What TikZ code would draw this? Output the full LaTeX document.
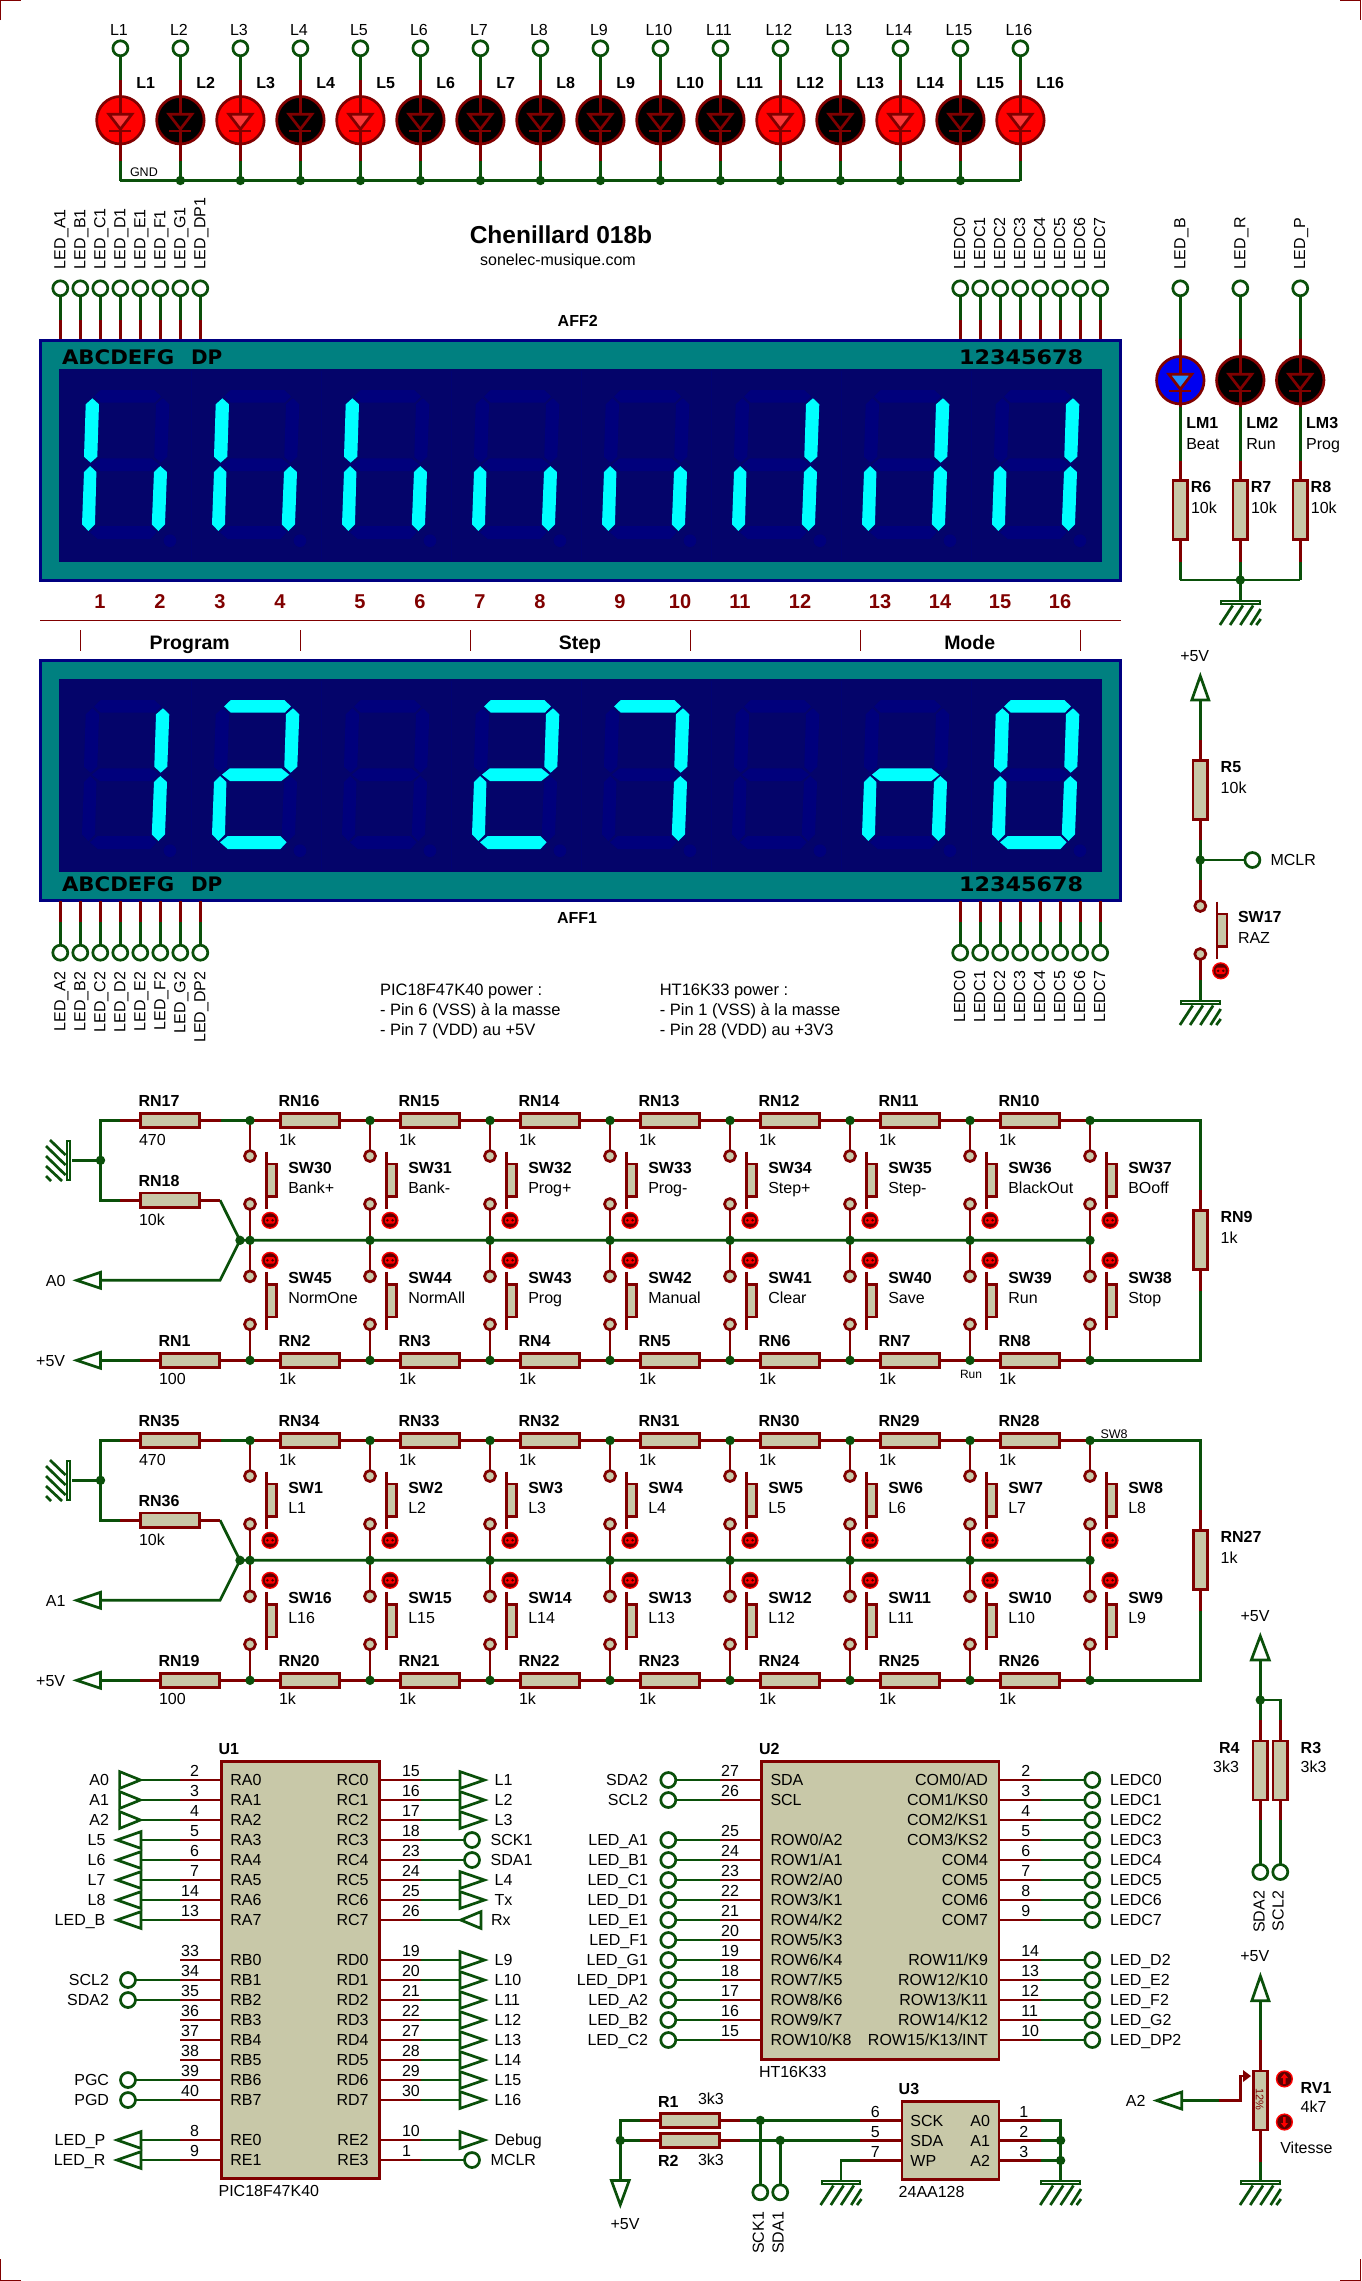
\documentclass[tikz,border=0pt]{standalone}
\usepackage{fontspec}
\usepackage{graphicx}
\setmainfont{Liberation Sans}
\newfontfamily\legf{DejaVu Sans}
\definecolor{wg}{HTML}{0A500A}
\definecolor{wr}{HTML}{800000}
\definecolor{body}{HTML}{C8C8A8}
\definecolor{ledr}{HTML}{FF0000}
\definecolor{ledt}{HTML}{FF3838}
\definecolor{ledb}{HTML}{0000F0}
\definecolor{ledbt}{HTML}{2090FF}
\definecolor{teal0}{HTML}{008080}
\definecolor{navy0}{HTML}{000080}
\definecolor{scr}{HTML}{04046A}
\definecolor{segdim}{HTML}{00007C}
\definecolor{sepc}{HTML}{020272}
\definecolor{seglit}{HTML}{00FFFF}
\tikzset{
 gw/.style={draw=wg,line width=2.7pt,line join=miter},
 rw/.style={draw=wr,line width=2.7pt,line join=miter},
 term/.style={circle,draw=wg,fill=white,line width=2.7pt,minimum size=15pt,inner sep=0pt,outer sep=0pt},
 jn/.style={circle,fill=wg,minimum size=9.4pt,inner sep=0pt,outer sep=0pt},
 cont/.style={circle,draw=wr,fill=body,line width=2.7pt,minimum size=11pt,inner sep=0pt,outer sep=0pt},
 ledc/.style={circle,draw=wr,line width=2.7pt,minimum size=47.5pt,inner sep=0pt,outer sep=0pt},
 resh/.style={rectangle,draw=wr,fill=body,line width=2.7pt,minimum width=59pt,minimum height=14.3pt,inner sep=0pt,outer sep=0pt},
 resv/.style={rectangle,draw=wr,fill=body,line width=2.7pt,minimum width=14.5pt,minimum height=59pt,inner sep=0pt,outer sep=0pt},
 chip/.style={rectangle,draw=wr,fill=body,line width=2.7pt,inner sep=0pt,outer sep=0pt},
 panel/.style={rectangle,draw=navy0,fill=teal0,line width=2.7pt,minimum width=1080pt,minimum height=239.6pt,inner sep=0pt,outer sep=0pt},
 screen/.style={rectangle,fill=scr,minimum width=1043pt,minimum height=192.7pt,inner sep=0pt,outer sep=0pt},
 gbar/.style={rectangle,draw=wg,fill=white,line width=2pt,minimum width=38.5pt,minimum height=3pt,inner sep=0pt,outer sep=0pt},
 txt/.style={inner sep=0pt,outer sep=0pt,anchor=base west,yshift=-5.7pt,font=\fontsize{16}{18}\selectfont,text=black},
 rtxt/.style={inner sep=0pt,outer sep=0pt,anchor=base west,xshift=5pt,rotate=90,font=\fontsize{16}{18}\selectfont,text=black},
 note/.style={font=\fontsize{16.5}{18}\selectfont},
 thin0/.style={draw=wr,line width=1.1pt},
}
\newcount\nc
\newcommand\Tx[4][]{\global\advance\nc by 1 \node[txt,#1] (tx\the\nc) at (#2,#3) {#4};}
\newcommand\Rx[4][]{\global\advance\nc by 1 \node[rtxt,#1] (tx\the\nc) at (#2,#3) {#4};}
\newcommand\Jn[1]{\global\advance\nc by 1 \node[jn] (jn\the\nc) at (#1) {};}
\newcommand\Tri[3]{\draw[gw,fill=white] (#1)--(#2)--(#3)--cycle;}
% segments of one digit, relative to the screen top
\newcommand\sega[1]{\fill[#1] (94.1,27.4)--(100.8,21)--(154.4,21)--(161,27.4)--(154.8,33.7)--(100.8,33.7)--cycle;}
\newcommand\segb[1]{\fill[#1] (163,29.3)--(169.3,35.3)--(167.3,87.7)--(160.7,93.7)--(154.3,87.7)--(156,35.3)--cycle;}
\newcommand\segc[1]{\fill[#1] (160.3,97)--(167,103)--(165,155.3)--(158.5,162)--(151.8,155.3)--(154,103)--cycle;}
\newcommand\segd[1]{\fill[#1] (90,163.3)--(97.7,157)--(150.4,157)--(156.6,163.3)--(150.4,170)--(97.7,170)--cycle;}
\newcommand\sege[1]{\fill[#1] (90.2,97)--(96.4,103)--(95,155.3)--(88.4,162)--(82,155.3)--(84,103)--cycle;}
\newcommand\segf[1]{\fill[#1] (92.4,29.3)--(99,35.3)--(97.3,87.7)--(90.6,93.7)--(84,87.7)--(85.7,35.3)--cycle;}
\newcommand\segg[1]{\fill[#1] (91.9,95.7)--(99.9,89.3)--(151.3,89.3)--(159.3,95.7)--(151.3,102)--(99.9,102)--cycle;}
\newcommand\segn[1]{}
\newcommand\Digit[3]{\begin{scope}[shift={(#2,#1)}]
 \foreach \sgm in {a,b,c,d,e,f,g}{\csname seg\sgm\endcsname{segdim}}
 \fill[segdim] (170,171.7) circle (6.3);
 \foreach \sgm in {#3}{\csname seg\sgm\endcsname{seglit}}
\end{scope}}
\newcommand\LED[5]{%
 \node[ledc,fill=#4] (#1) at (#2,#3) {};
 \draw[rw,fill=#5] (#2-11.5,#3-6)--(#2+11.5,#3-6)--(#2,#3+9)--cycle;
 \draw[rw] (#2-11,#3+10.7)--(#2+11,#3+10.7);
 \draw[rw] (#1.north)--(#2,#3-6);
 \draw[rw] (#2,#3+9)--(#1.south);
}
\newcommand\Gnd[3]{%
 \node[gbar] (#1) at (#2,#3+2.5) {};
 \draw[gw] (#2-7.6,#3+5.5)--(#2-20.4,#3+25);
 \draw[gw] (#2+2.6,#3+5.5)--(#2-10.2,#3+25);
 \draw[gw] (#2+12.8,#3+5.5)--(#2,#3+25);
 \draw[gw] (#2+20.4,#3+9)--(#2+10.2,#3+25);
 \draw[gw] (#2+20.4,#3+19)--(#2+16,#3+25);
}
\newcommand\IndBase[2]{\fill[ledr] (#1,#2) circle (8.6); \fill[wr!75!black] (#1,#2) circle (7.1);}
\newcommand\Ind[2]{\IndBase{#1}{#2}
 \fill[ledr,rounded corners=1.5pt] (#1-5,#2-3.2) rectangle (#1+5,#2+3.2);
 \fill[wr!60!black] (#1-2.6,#2) circle (1.4); \fill[wr!60!black] (#1+2.6,#2) circle (1.4);}
% switch: name, column x, y of the upper contact
\newcommand\SwB[3]{%
 \node[cont] (#1a) at (#2,#3) {};
 \node[cont] (#1b) at (#2,#3+48) {};
 \draw[rw,fill=body] (#2+16.7,#3+7.9) rectangle (#2+26.7,#3+40.8);
 \draw[rw] (#2+16.7,#3-4.5)--(#2+16.7,#3+53.2);
}
\newcommand\Mat{%
 \pgfmathsetmacro\Yt{1120.5+\Dy}
 \pgfmathsetmacro\Ym{1240.3+\Dy}
 \pgfmathsetmacro\Yb{1360.3+\Dy}
 \foreach \cc in {0,...,7}{
  \pgfmathsetmacro\xx{250+120*\cc}
  \coordinate (\Tag T\cc) at (\xx,\Yt);
  \coordinate (\Tag M\cc) at (\xx,\Ym);
  \coordinate (\Tag B\cc) at (\xx,\Yb);
 }
 \coordinate (\Tag g) at (100.5,\Ym-80);
 \coordinate (\Tag tl) at (100.5,\Yt);
 \coordinate (\Tag tm) at (120,\Yt);
 \coordinate (\Tag ml) at (100.5,\Yt+79.7);
 \coordinate (\Tag mm) at (120,\Yt+79.7);
 \coordinate (\Tag me) at (220,\Yt+79.7);
 \coordinate (\Tag te) at (221,\Yt);
 \coordinate (\Tag hub) at (240,\Ym);
 \coordinate (\Tag ae) at (220,\Ym+40);
 \coordinate (\Tag aw) at (100.5,\Ym+40);
 \coordinate (\Tag bw) at (100.5,\Yb);
 \coordinate (\Tag bm) at (140,\Yb);
 \coordinate (\Tag rt) at (1200.4,\Yt);
 \coordinate (\Tag rta) at (1200.4,\Yt+69.5);
 \coordinate (\Tag rb) at (1200.4,\Yb);
 \coordinate (\Tag rba) at (1200.4,\Yb-69.6);
 \coordinate (\Tag barr) at (71.5,\Ym-80);
 % green wires
 \draw[gw] (\Tag mm)--(\Tag ml)--(\Tag tl)--(\Tag tm);
 \draw[gw] (\Tag g)--(\Tag barr);
 \draw[gw] (\Tag me)--(\Tag hub)--(\Tag M7);
 \draw[gw] (\Tag aw)--(\Tag ae)--(\Tag hub);
 \draw[gw] (\Tag bw)--(\Tag bm);
 \draw[gw] (\Tag te)--(\Tag T0);
 \draw[gw] (\Tag T7)--(\Tag rt)--(\Tag rta);
 \draw[gw] (\Tag B7)--(\Tag rb)--(\Tag rba);
 % resistors at the left and right
 \node[resh] (\Tag r1) at (170.3,\Yt) {};
 \node[resh] (\Tag r2) at (170.3,\Yt+79.7) {};
 \node[resh] (\Tag r3) at (190.3,\Yb) {};
 \node[resv] (\Tag r4) at (1200.4,\Ym) {};
 \draw[rw] (\Tag tm)--(\Tag r1.west); \draw[rw] (\Tag r1.east)--(\Tag te);
 \draw[rw] (\Tag mm)--(\Tag r2.west); \draw[rw] (\Tag r2.east)--(\Tag me);
 \draw[rw] (\Tag bm)--(\Tag r3.west); \draw[rw] (\Tag r3.east)--(\Tag B0);
 \draw[rw] (\Tag rta)--(\Tag r4.north); \draw[rw] (\Tag r4.south)--(\Tag rba);
 \Tx{138.5}{\Yt-19.5}{\bfseries\RTop}
 \Tx{139}{\Yt+18.8}{470}
 \Tx{138.5}{\Yt+60.2}{\bfseries\RMid}
 \Tx{139}{\Yt+99}{10k}
 \Tx{158.5}{\Yb-19.3}{\bfseries\RBot}
 \Tx{159}{\Yb+18.8}{100}
 \Tx{1220.6}{\Ym-23.3}{\bfseries\RVert}
 \Tx{1220.6}{\Ym-2.6}{1k}
 % hatch of the rotated earth
 \node[gbar,minimum width=3pt,minimum height=38.5pt] (\Tag gb) at (68.7,\Ym-80) {};
 \draw[gw] (50,\Ym-100.3)--(65.5,\Ym-85.3);
 \draw[gw] (46,\Ym-94.3)--(65.5,\Ym-75.3);
 \draw[gw] (46,\Ym-84.3)--(65.5,\Ym-65.3);
 \draw[gw] (46,\Ym-74.3)--(62,\Ym-59.3);
 \draw[gw] (46,\Ym-64.3)--(51,\Ym-59.3);
 \Jn{\Tag g}
 \Jn{\Tag hub}
 \Tri{76.7,\Ym+40}{100.5,\Ym+32}{100.5,\Ym+48}
 \Tri{76.7,\Yb}{100.5,\Yb-8}{100.5,\Yb+8}
 \Tx[anchor=base]{55.7}{\Ym+40}{\AIn}
 \Tx[anchor=base]{50.7}{\Yb}{+5V}
 % rows of resistors
 \foreach \cc/\rn in \TopL{
  \pgfmathtruncatemacro\nxt{\cc+1}
  \pgfmathsetmacro\xx{250+120*\cc}
  \node[resh] (\Tag tr\cc) at (\xx+60.3,\Yt) {};
  \draw[rw] (\Tag T\cc)--(\Tag tr\cc.west);
  \draw[rw] (\Tag tr\cc.east)--(\Tag T\nxt);
  \Tx{\xx+28.5}{\Yt-19.5}{\bfseries\rn}
  \Tx{\xx+29}{\Yt+18.8}{1k}
 }
 \foreach \cc/\rn in \BotL{
  \pgfmathtruncatemacro\nxt{\cc+1}
  \pgfmathsetmacro\xx{250+120*\cc}
  \node[resh] (\Tag br\cc) at (\xx+60.3,\Yb) {};
  \draw[rw] (\Tag B\cc)--(\Tag br\cc.west);
  \draw[rw] (\Tag br\cc.east)--(\Tag B\nxt);
  \Tx{\xx+28.5}{\Yb-19.3}{\bfseries\rn}
  \Tx{\xx+29}{\Yb+18.8}{1k}
 }
 % switches
 \foreach \cc/\sa/\sb in \SwT{
  \pgfmathsetmacro\xx{250+120*\cc}
  \SwB{\Tag su\cc}{\xx}{\Yt+35.5}
  \draw[rw] (\Tag T\cc)--(\Tag su\cc a);
  \draw[rw] (\Tag su\cc b)--(\Tag M\cc);
  \Ind{\xx+20}{\Yt+99.8}
  \Tx{\xx+38.3}{\Yt+46.8}{\bfseries\sa}
  \Tx{\xx+38.3}{\Yt+66.8}{\sb}
 }
 \foreach \cc/\sa/\sb in \SwL{
  \pgfmathsetmacro\xx{250+120*\cc}
  \SwB{\Tag sl\cc}{\xx}{\Ym+36}
  \draw[rw] (\Tag M\cc)--(\Tag sl\cc a);
  \draw[rw] (\Tag sl\cc b)--(\Tag B\cc);
  \Ind{\xx+20}{\Ym+20}
  \Tx{\xx+38.3}{\Ym+37}{\bfseries\sa}
  \Tx{\xx+38.3}{\Ym+57}{\sb}
  \Jn{\Tag T\cc}
  \Jn{\Tag M\cc}
  \Jn{\Tag B\cc}
 }
}
% terminal styles of U1
\newcommand\UaLi[3]{\coordinate (UaE#1) at (140.4,#2); \draw[gw] (UaM#1)--(UaE#1);
 \Tri{119.6,#2-8.4}{140.4,#2}{119.6,#2+8.4} \Tx[anchor=base east]{109}{#2}{#3}}
\newcommand\UaLo[3]{\coordinate (UaE#1) at (141,#2); \draw[gw] (UaM#1)--(UaE#1);
 \Tri{117,#2}{141,#2-8.4}{141,#2+8.4} \Tx[anchor=base east]{105.4}{#2}{#3}}
\newcommand\UaLc[3]{\node[term] (UaE#1) at (128,#2) {}; \draw[gw] (UaM#1)--(UaE#1);
 \Tx[anchor=base east]{109}{#2}{#3}}
\newcommand\UaLn[3]{}
\newcommand\UaRo[3]{\coordinate (UbE#1) at (460,#2); \draw[gw] (UbM#1)--(UbE#1);
 \Tri{460,#2-8.4}{484.5,#2}{460,#2+8.4} \Tx{494.6}{#2}{#3}}
\newcommand\UaRc[3]{\node[term] (UbE#1) at (472,#2) {}; \draw[gw] (UbM#1)--(UbE#1);
 \Tx{490.7}{#2}{#3}}
\newcommand\UaRr[3]{\coordinate (UbE#1) at (460.7,#2); \draw[gw] (UbM#1)--(UbE#1);
 \Tri{460.7,#2}{481,#2-8.4}{481,#2+8.4} \Tx{491}{#2}{#3}}
\begin{document}
\begin{tikzpicture}[x=1pt,y=-1pt]
\useasboundingbox (0,0) rectangle (1361,2281);
\fill[white] (0,0) rectangle (1361,2281);
% sheet corners
\draw[thin0] (0.5,20)--(0.5,0.5)--(21,0.5);
\draw[thin0] (1340,0.5)--(1360.5,0.5)--(1360.5,20);
\draw[thin0] (0.5,2259)--(0.5,2280.5)--(21,2280.5);
\draw[thin0] (1340,2280.5)--(1360.5,2280.5)--(1360.5,2259);
% ---------- LED row
\foreach \ii/\fc/\tc in {1/ledr/ledt,2/black/black,3/ledr/ledt,4/black/black,5/ledr/ledt,6/black/black,7/black/black,8/black/black,9/black/black,10/black/black,11/black/black,12/ledr/ledt,13/black/black,14/ledr/ledt,15/black/black,16/ledr/ledt}{
 \pgfmathsetmacro\xx{120.4+60*(\ii-1)}
 \node[term] (Lt\ii) at (\xx,48.3) {};
 \coordinate (La\ii) at (\xx,80);
 \coordinate (Lb\ii) at (\xx,161);
 \coordinate (Lg\ii) at (\xx,180.5);
 \draw[gw] (Lt\ii)--(La\ii);
 \draw[gw] (Lb\ii)--(Lg\ii);
 \LED{Ld\ii}{\xx}{120.2}{\fc}{\tc}
 \draw[rw] (La\ii)--(Ld\ii.north);
 \draw[rw] (Ld\ii.south)--(Lb\ii);
 \Tx[anchor=base]{\xx-1.5}{30}{L\ii}
 \Tx{\xx+16}{83}{\bfseries L\ii}
}
\draw[gw] (Lg1)--(Lg16);
\foreach \ii in {2,...,15}{\Jn{Lg\ii}}
\Tx[font=\fontsize{12.5}{14}\selectfont]{130}{171}{GND}
% ---------- title
\Tx[anchor=base,yshift=-2.7pt,font=\fontsize{24.5}{28}\selectfont]{561}{235}{\bfseries Chenillard 018b}
\Tx[anchor=base]{558}{260}{sonelec-musique.com}
\Tx[anchor=base]{577.7}{321}{\bfseries AFF2}
\Tx[anchor=base]{577}{917.3}{\bfseries AFF1}
% ---------- panels
\node[panel] (aff2) at (580.7,460.5) {};
\node[screen] (scr2) at (580.5,465.4) {};
\node[panel] (aff1) at (580.7,780.5) {};
\node[screen] (scr1) at (580.5,775.4) {};
\foreach \oy in {369,679}{
 \foreach \qq in {0,...,6}{
  \pgfmathsetmacro\xx{191+130*\qq}
  \draw[sepc,line width=1pt] (\xx,\oy+2)--(\xx,\oy+192);
 }
}
\Digit{369}{0}{f,e,c}
\Digit{369}{130}{f,e,c}
\Digit{369}{260}{f,e,c}
\Digit{369}{390}{e,c}
\Digit{369}{520}{e,c}
\Digit{369}{650}{b,e,c}
\Digit{369}{780}{b,e,c}
\Digit{369}{910}{b,e,c}
\Digit{679}{0}{b,c}
\Digit{679}{130}{a,b,g,e,d}
\Digit{679}{260}{n}
\Digit{679}{390}{a,b,g,e,d}
\Digit{679}{520}{a,b,c}
\Digit{679}{650}{n}
\Digit{679}{780}{e,g,c}
\Digit{679}{910}{a,b,c,d,e,f}
\foreach \ly in {356.7,884.5}{
 \Tx[yshift=-1.6pt,font=\legf\fontsize{20}{22}\selectfont\bfseries]{62}{\ly}{\scalebox{1.063}[1]{ABCDEFG}}
 \Tx[yshift=-1.6pt,font=\legf\fontsize{20}{22}\selectfont\bfseries]{191}{\ly}{DP}
 \Tx[yshift=-1.6pt,font=\legf\fontsize{20}{22}\selectfont\bfseries]{959}{\ly}{\scalebox{1.115}[1]{12345678}}
}
% ---------- display pins
\foreach \ii/\la/\lb in {0/A/A1,1/B/B1,2/C/C1,3/D/D1,4/E/E1,5/F/F1,6/G/G1,7/DP/DP1}{
 \pgfmathsetmacro\xx{60.3+20*\ii}
 \node[term] (pa\ii) at (\xx,288.3) {};
 \coordinate (pam\ii) at (\xx,320);
 \coordinate (pae\ii) at (\xx,339);
 \draw[gw] (pa\ii)--(pam\ii);
 \draw[rw] (pam\ii)--(pae\ii);
 \Rx{\xx}{269}{LED\_\la 1}
}
\foreach \ii/\la in {0/A,1/B,2/C,3/D,4/E,5/F,6/G,7/DP}{
 \pgfmathsetmacro\xx{60.3+20*\ii}
 \node[term] (pb\ii) at (\xx,952.7) {};
 \coordinate (pbm\ii) at (\xx,921.7);
 \coordinate (pbe\ii) at (\xx,901);
 \draw[gw] (pb\ii)--(pbm\ii);
 \draw[rw] (pbm\ii)--(pbe\ii);
 \Rx[anchor=base east]{\xx}{971.7}{LED\_\la 2}
}
\foreach \ii in {0,...,7}{
 \pgfmathsetmacro\xx{960.2+20*\ii}
 \node[term] (pc\ii) at (\xx,288.3) {};
 \coordinate (pcm\ii) at (\xx,320);
 \coordinate (pce\ii) at (\xx,339);
 \draw[gw] (pc\ii)--(pcm\ii);
 \draw[rw] (pcm\ii)--(pce\ii);
 \Rx{\xx}{269}{LEDC\ii}
 \node[term] (pd\ii) at (\xx,952.7) {};
 \coordinate (pdm\ii) at (\xx,921.7);
 \coordinate (pde\ii) at (\xx,901);
 \draw[gw] (pd\ii)--(pdm\ii);
 \draw[rw] (pdm\ii)--(pde\ii);
 \Rx[anchor=base east]{\xx}{971}{LEDC\ii}
}
% ---------- separators and legend between the displays
\foreach \xx/\nn in {100/1,160/2,220/3,280/4,360/5,420/6,480/7,540/8,620/9,680/10,740/11,800/12,880/13,940/14,1000/15,1060/16}{
 \Tx[anchor=base,yshift=-1.5pt,font=\fontsize{20}{22}\selectfont\bfseries,text=wr]{\xx}{601.7}{\nn}
}
\coordinate (sepa) at (40,620.7);
\coordinate (sepb) at (1121,620.7);
\draw[thin0] (sepa)--(sepb);
\foreach \xx in {80.4,300.4,470.5,690.6,860.2,1080.4}{\draw[thin0] (\xx,630)--(\xx,650.7);}
\Tx[anchor=base,yshift=-1.4pt,font=\fontsize{19.5}{22}\selectfont\bfseries]{189.7}{642}{Program}
\Tx[anchor=base,yshift=-1.4pt,font=\fontsize{19.5}{22}\selectfont\bfseries]{580}{642}{Step}
\Tx[anchor=base,yshift=-1.4pt,font=\fontsize{19.5}{22}\selectfont\bfseries]{969.7}{642}{Mode}
% ---------- power notes
\Tx[note]{380}{989.3}{PIC18F47K40 power :}
\Tx[note]{380}{1009.3}{- Pin 6 (VSS) à la masse}
\Tx[note]{380}{1029.3}{- Pin 7 (VDD) au +5V}
\Tx[note]{659.8}{989.3}{HT16K33 power :}
\Tx[note]{659.8}{1009.3}{- Pin 1 (VSS) à la masse}
\Tx[note]{659.8}{1029.3}{- Pin 28 (VDD) au +3V3}
% ---------- LM leds
\foreach \ii/\xx/\nm/\rr/\sb/\fc/\tc in {1/1180.3/LED\_B/R6/Beat/ledb/ledbt,2/1240.3/LED\_R/R7/Run/black/black,3/1300.2/LED\_P/R8/Prog/black/black}{
 \node[term] (mt\ii) at (\xx,288.3) {};
 \coordinate (ma\ii) at (\xx,339.3);
 \coordinate (mb\ii) at (\xx,407);
 \coordinate (mc\ii) at (\xx,460.5);
 \coordinate (md\ii) at (\xx,562);
 \coordinate (mg\ii) at (\xx,580);
 \draw[gw] (mt\ii)--(ma\ii);
 \draw[gw] (mb\ii)--(mc\ii);
 \draw[gw] (md\ii)--(mg\ii);
 \LED{ml\ii}{\xx}{380.2}{\fc}{\tc}
 \node[resv] (mr\ii) at (\xx,510.2) {};
 \draw[rw] (ma\ii)--(ml\ii.north);
 \draw[rw] (ml\ii.south)--(mb\ii);
 \draw[rw] (mc\ii)--(mr\ii.north);
 \draw[rw] (mr\ii.south)--(md\ii);
 \Rx{\xx}{269}{\nm}
 \Tx{\xx+6}{422.6}{\bfseries LM\ii}
 \Tx{\xx+6}{443.6}{\sb}
 \Tx{\xx+10.5}{487}{\bfseries \rr}
 \Tx{\xx+10.7}{507.4}{10k}
}
\draw[gw] (mg1)--(mg3);
\Gnd{g1}{1240.3}{600}
\Jn{mg2}
\draw[gw] (mg2)--(g1.north);
% ---------- MCLR
\Tx[anchor=base]{1194.7}{655.6}{+5V}
\coordinate (ra) at (1200.3,700);
\coordinate (rb) at (1200.3,739.6);
\coordinate (rc) at (1200.3,840);
\coordinate (rd) at (1200.3,860);
\coordinate (re) at (1200.3,880);
\coordinate (rf) at (1200.3,980);
\draw[gw] (ra)--(rb);
\draw[gw] (rc)--(re);
\draw[gw] (rf)--(1200.3,1001);
\node[resv] (R5) at (1200.3,790.3) {};
\draw[rw] (rb)--(R5.north);
\draw[rw] (R5.south)--(rc);
\Tri{1200.3,676}{1191.8,700}{1208.8,700}
\SwB{sw17}{1200.3}{906}
\draw[rw] (re)--(sw17a);
\draw[rw] (sw17b)--(rf);
\Ind{1220.7}{970.8}
\Gnd{g2}{1200.3}{1000}
\node[term] (mclrt) at (1252.4,860) {};
\draw[gw] (rd)--(mclrt);
\Jn{rd}
\Tx{1270.6}{860}{MCLR}
\Tx{1220.7}{767}{\bfseries R5}
\Tx{1220.7}{787.3}{10k}
\Tx{1238}{917}{\bfseries SW17}
\Tx{1238}{937.3}{RAZ}
% ---------- switch matrices
\def\Dy{0}\def\Tag{a}\def\AIn{A0}\def\RTop{RN17}\def\RMid{RN18}\def\RBot{RN1}\def\RVert{RN9}
\def\TopL{0/RN16,1/RN15,2/RN14,3/RN13,4/RN12,5/RN11,6/RN10}
\def\BotL{0/RN2,1/RN3,2/RN4,3/RN5,4/RN6,5/RN7,6/RN8}
\def\SwT{0/SW30/Bank+,1/SW31/Bank-,2/SW32/Prog+,3/SW33/Prog-,4/SW34/Step+,5/SW35/Step-,6/SW36/BlackOut,7/SW37/BOoff}
\def\SwL{0/SW45/NormOne,1/SW44/NormAll,2/SW43/Prog,3/SW42/Manual,4/SW41/Clear,5/SW40/Save,6/SW39/Run,7/SW38/Stop}
\Mat
\def\Dy{320}\def\Tag{b}\def\AIn{A1}\def\RTop{RN35}\def\RMid{RN36}\def\RBot{RN19}\def\RVert{RN27}
\def\TopL{0/RN34,1/RN33,2/RN32,3/RN31,4/RN30,5/RN29,6/RN28}
\def\BotL{0/RN20,1/RN21,2/RN22,3/RN23,4/RN24,5/RN25,6/RN26}
\def\SwT{0/SW1/L1,1/SW2/L2,2/SW3/L3,3/SW4/L4,4/SW5/L5,5/SW6/L6,6/SW7/L7,7/SW8/L8}
\def\SwL{0/SW16/L16,1/SW15/L15,2/SW14/L14,3/SW13/L13,4/SW12/L12,5/SW11/L11,6/SW10/L10,7/SW9/L9}
\Mat
\Tx[font=\fontsize{12}{14}\selectfont,anchor=base,yshift=-1.5pt]{971}{1371.7}{Run}
\Tx[font=\fontsize{12.5}{14}\selectfont,yshift=-1.5pt]{1100.5}{1431}{SW8}
% ---------- U1
\node[chip,minimum width=158pt,minimum height=417pt] (U1) at (300.7,1969.8) {};
\Tx{218.6}{1748.6}{\bfseries U1}
\Tx{218.6}{2190.4}{PIC18F47K40}
\foreach \kk/\pn/\num/\ty/\lb in {0/RA0/2/i/A0,1/RA1/3/i/A1,2/RA2/4/i/A2,3/RA3/5/o/L5,4/RA4/6/o/L6,5/RA5/7/o/L7,6/RA6/14/o/L8,7/RA7/13/o/LED\_B,9/RB0/33/n/x,10/RB1/34/c/SCL2,11/RB2/35/c/SDA2,12/RB3/36/n/x,13/RB4/37/n/x,14/RB5/38/n/x,15/RB6/39/c/PGC,16/RB7/40/c/PGD,18/RE0/8/o/LED\_P,19/RE1/9/o/LED\_R}{
 \pgfmathsetmacro\yy{1780+20*\kk}
 \coordinate (UaP\kk) at (220.4,\yy);
 \coordinate (UaM\kk) at (180,\yy);
 \draw[rw] (UaP\kk)--(UaM\kk);
 \Tx{230.4}{\yy}{\pn}
 \Tx[anchor=base east]{199}{\yy-9}{\num}
 \csname UaL\ty\endcsname{\kk}{\yy}{\lb}
}
\foreach \kk/\pn/\num/\ty/\lb in {0/RC0/15/o/L1,1/RC1/16/o/L2,2/RC2/17/o/L3,3/RC3/18/c/SCK1,4/RC4/23/c/SDA1,5/RC5/24/o/L4,6/RC6/25/o/Tx,7/RC7/26/r/Rx,9/RD0/19/o/L9,10/RD1/20/o/L10,11/RD2/21/o/L11,12/RD3/22/o/L12,13/RD4/27/o/L13,14/RD5/28/o/L14,15/RD6/29/o/L15,16/RD7/30/o/L16,18/RE2/10/o/Debug,19/RE3/1/c/MCLR}{
 \pgfmathsetmacro\yy{1780+20*\kk}
 \coordinate (UbP\kk) at (381,\yy);
 \coordinate (UbM\kk) at (421.4,\yy);
 \draw[rw] (UbP\kk)--(UbM\kk);
 \Tx[anchor=base east]{368.6}{\yy}{\pn}
 \Tx{402}{\yy-9}{\num}
 \csname UaR\ty\endcsname{\kk}{\yy}{\lb}
}
% ---------- U2
\node[chip,minimum width=237.3pt,minimum height=298.3pt] (U2) at (880.3,1910.5) {};
\Tx{759}{1748.6}{\bfseries U2}
\Tx{759}{2071.7}{HT16K33}
\foreach \kk/\pn/\num/\lb in {0/SDA/27/SDA2,1/SCL/26/SCL2,3/ROW0\slash A2/25/LED\_A1,4/ROW1\slash A1/24/LED\_B1,5/ROW2\slash A0/23/LED\_C1,6/ROW3\slash K1/22/LED\_D1,7/ROW4\slash K2/21/LED\_E1,8/ROW5\slash K3/20/LED\_F1,9/ROW6\slash K4/19/LED\_G1,10/ROW7\slash K5/18/LED\_DP1,11/ROW8\slash K6/17/LED\_A2,12/ROW9\slash K7/16/LED\_B2,13/ROW10\slash K8/15/LED\_C2}{
 \pgfmathsetmacro\yy{1780+20*\kk}
 \coordinate (UcP\kk) at (760.3,\yy);
 \coordinate (UcM\kk) at (720,\yy);
 \node[term] (UcE\kk) at (668.3,\yy) {};
 \draw[rw] (UcP\kk)--(UcM\kk);
 \draw[gw] (UcM\kk)--(UcE\kk);
 \Tx{770.5}{\yy}{\pn}
 \Tx[anchor=base east]{739}{\yy-9}{\num}
 \Tx[anchor=base east]{648}{\yy}{\lb}
}
\foreach \kk/\pn/\num/\lb in {0/COM0\slash AD/2/LEDC0,1/COM1\slash KS0/3/LEDC1,2/COM2\slash KS1/4/LEDC2,3/COM3\slash KS2/5/LEDC3,4/COM4/6/LEDC4,5/COM5/7/LEDC5,6/COM6/8/LEDC6,7/COM7/9/LEDC7,9/ROW11\slash K9/14/LED\_D2,10/ROW12\slash K10/13/LED\_E2,11/ROW13\slash K11/12/LED\_F2,12/ROW14\slash K12/11/LED\_G2,13/ROW15\slash K13\slash INT/10/LED\_DP2}{
 \pgfmathsetmacro\yy{1780+20*\kk}
 \coordinate (UdP\kk) at (1000.3,\yy);
 \coordinate (UdM\kk) at (1041.2,\yy);
 \node[term] (UdE\kk) at (1092.3,\yy) {};
 \draw[rw] (UdP\kk)--(UdM\kk);
 \draw[gw] (UdM\kk)--(UdE\kk);
 \Tx[anchor=base east]{988}{\yy}{\pn}
 \Tx{1021.3}{\yy-9}{\num}
 \Tx{1110.2}{\yy}{\lb}
}
% ---------- U3
\node[chip,minimum width=97pt,minimum height=77.8pt] (U3) at (950.5,2140.5) {};
\Tx{898.7}{2088.9}{\bfseries U3}
\Tx{898.7}{2191.5}{24AA128}
\coordinate (sckP) at (900.7,2120.4); \coordinate (sckM) at (860.4,2120.4);
\coordinate (sdaP) at (900.7,2140.4); \coordinate (sdaM) at (860.4,2140.4);
\coordinate (wpP) at (900.7,2160.4); \coordinate (wpM) at (860.4,2160.4);
\coordinate (wpC) at (841,2160.4);
\coordinate (a0P) at (1000.4,2120.4); \coordinate (a0M) at (1041,2120.4); \coordinate (a0C) at (1060.6,2120.4);
\coordinate (a1P) at (1000.4,2140.4); \coordinate (a1M) at (1041,2140.4); \coordinate (a1C) at (1060.6,2140.4);
\coordinate (a2P) at (1000.4,2160.4); \coordinate (a2M) at (1041,2160.4); \coordinate (a2C) at (1060.6,2160.4);
\coordinate (r1L) at (640,2120.4); \coordinate (r1LL) at (620.3,2120.4);
\coordinate (r2L) at (640,2140.4); \coordinate (r2LL) at (620.3,2140.4);
\coordinate (r1R) at (740.3,2120.4); \coordinate (r2R) at (740.3,2140.4);
\coordinate (jsck) at (760.3,2120.4); \coordinate (jsda) at (780.2,2140.4);
\coordinate (ptop) at (620.3,2180.5);
\draw[rw] (sckP)--(sckM); \draw[rw] (sdaP)--(sdaM); \draw[rw] (wpP)--(wpM);
\draw[rw] (a0P)--(a0M); \draw[rw] (a1P)--(a1M); \draw[rw] (a2P)--(a2M);
\Gnd{g3}{841}{2180}
\Gnd{g4}{1060.6}{2180}
\draw[gw] (wpM)--(wpC)--(g3.north);
\draw[gw] (a0M)--(a0C)--(g4.north);
\draw[gw] (a1M)--(a1C);
\draw[gw] (a2M)--(a2C);
\Jn{a1C} \Jn{a2C}
\foreach \yy/\pp/\qq in {2120.4/6/1,2140.4/5/2,2160.4/7/3}{
 \Tx[anchor=base]{875.2}{\yy-9}{\pp}
 \Tx[anchor=base]{1023.9}{\yy-9}{\qq}
}
\Tx{910.4}{2120.4}{SCK}
\Tx{910.4}{2140.4}{SDA}
\Tx{910.4}{2160.4}{WP}
\Tx[anchor=base east]{990}{2120.4}{A0}
\Tx[anchor=base east]{990}{2140.4}{A1}
\Tx[anchor=base east]{990}{2160.4}{A2}
% R1 R2
\node[resh] (R1) at (690.3,2120.4) {};
\node[resh] (R2) at (690.3,2140.4) {};
\draw[rw] (r1L)--(R1.west); \draw[rw] (R1.east)--(r1R);
\draw[rw] (r2L)--(R2.west); \draw[rw] (R2.east)--(r2R);
\draw[gw] (r1L)--(r1LL)--(ptop);
\draw[gw] (r2L)--(r2LL);
\draw[gw] (r1R)--(sckM);
\draw[gw] (r2R)--(sdaM);
\node[term] (tsck) at (760.3,2192.3) {};
\node[term] (tsda) at (780.2,2192.3) {};
\draw[gw] (jsck)--(tsck);
\draw[gw] (jsda)--(tsda);
\Jn{r2LL} \Jn{jsck} \Jn{jsda}
\Tri{611.4,2180.5}{629.2,2180.5}{620.3,2204.8}
\Tx[anchor=base]{625}{2223.8}{+5V}
\Rx[anchor=base east]{758.9}{2212}{SCK1}
\Rx[anchor=base east]{778.7}{2212}{SDA1}
\Tx{658}{2101.4}{\bfseries R1}
\Tx{698}{2099}{3k3}
\Tx{658}{2161}{\bfseries R2}
\Tx{698}{2159.4}{3k3}
% ---------- R3 R4
\Tx[anchor=base]{1255}{1616}{+5V}
\coordinate (pa) at (1260.3,1660);
\coordinate (pj) at (1260.3,1700);
\coordinate (pk) at (1280.3,1700);
\coordinate (r4a) at (1260.3,1720);
\coordinate (r3a) at (1280.3,1720);
\coordinate (r4c) at (1260.3,1820);
\coordinate (r3c) at (1280.3,1820);
\node[term] (t4) at (1260.3,1872) {};
\node[term] (t3) at (1280.3,1872) {};
\draw[gw] (pa)--(r4a);
\draw[gw] (pj)--(pk)--(r3a);
\draw[gw] (r4c)--(t4);
\draw[gw] (r3c)--(t3);
\node[resv] (R4) at (1260.3,1770.6) {};
\node[resv] (R3) at (1280.3,1770.6) {};
\draw[rw] (r4a)--(R4.north); \draw[rw] (R4.south)--(r4c);
\draw[rw] (r3a)--(R3.north); \draw[rw] (R3.south)--(r3c);
\Jn{pj}
\Tri{1260.3,1636}{1251.3,1660}{1269.3,1660}
\Tx[anchor=base east]{1239.5}{1747.5}{\bfseries R4}
\Tx[anchor=base east]{1239}{1767}{3k3}
\Tx{1300.7}{1747.5}{\bfseries R3}
\Tx{1300.7}{1767}{3k3}
\Rx[anchor=base east]{1259.7}{1891}{SDA2}
\Rx[anchor=base east]{1278.7}{1891}{SCL2}
% ---------- RV1
\Tx[anchor=base]{1254.8}{1956}{+5V}
\coordinate (va) at (1260.4,2000.8);
\coordinate (vb) at (1260.4,2040);
\coordinate (vc) at (1260.4,2162);
\coordinate (wa) at (1181.7,2100.5);
\coordinate (wb) at (1219,2100.5);
\coordinate (wc) at (1240.6,2100.5);
\coordinate (wd) at (1240.6,2076);
\coordinate (we) at (1246,2076);
\draw[gw] (va)--(vb);
\draw[gw] (wa)--(wb);
\draw[rw] (wb)--(wc)--(wd)--(we);
\Gnd{g5}{1260.4}{2180}
\draw[gw] (vc)--(g5.north);
\node[resv] (RV1) at (1260.4,2100.5) {};
\draw[rw] (vb)--(RV1.north);
\draw[rw] (RV1.south)--(vc);
\fill[wr] (1243,2070)--(1251,2076)--(1243,2082)--cycle;
\Tri{1260.4,1976}{1251.8,2000.8}{1269,2000.8}
\Tri{1156.7,2100.5}{1181.7,2092}{1181.7,2109}
\Tx[anchor=base]{1135.7}{2100.5}{A2}
\global\advance\nc by 1
\node[inner sep=0pt,text=wr,rotate=-90,font=\fontsize{11}{12}\selectfont] (tx\the\nc) at (1259.6,2099) {12\%};
\IndBase{1284.4}{2078.9}
\fill[ledr] (1284.4,2073.5)--(1288,2078)--(1285.6,2078)--(1285.6,2084)--(1283.2,2084)--(1283.2,2078)--(1280.8,2078)--cycle;
\IndBase{1284.4}{2122}
\fill[ledr] (1284.4,2127.4)--(1288,2123)--(1285.6,2123)--(1285.6,2117)--(1283.2,2117)--(1283.2,2123)--(1280.8,2123)--cycle;
\Tx{1300.7}{2087.4}{\bfseries RV1}
\Tx{1300.7}{2107}{4k7}
\Tx{1280.3}{2147.5}{Vitesse}
\end{tikzpicture}
\end{document}
